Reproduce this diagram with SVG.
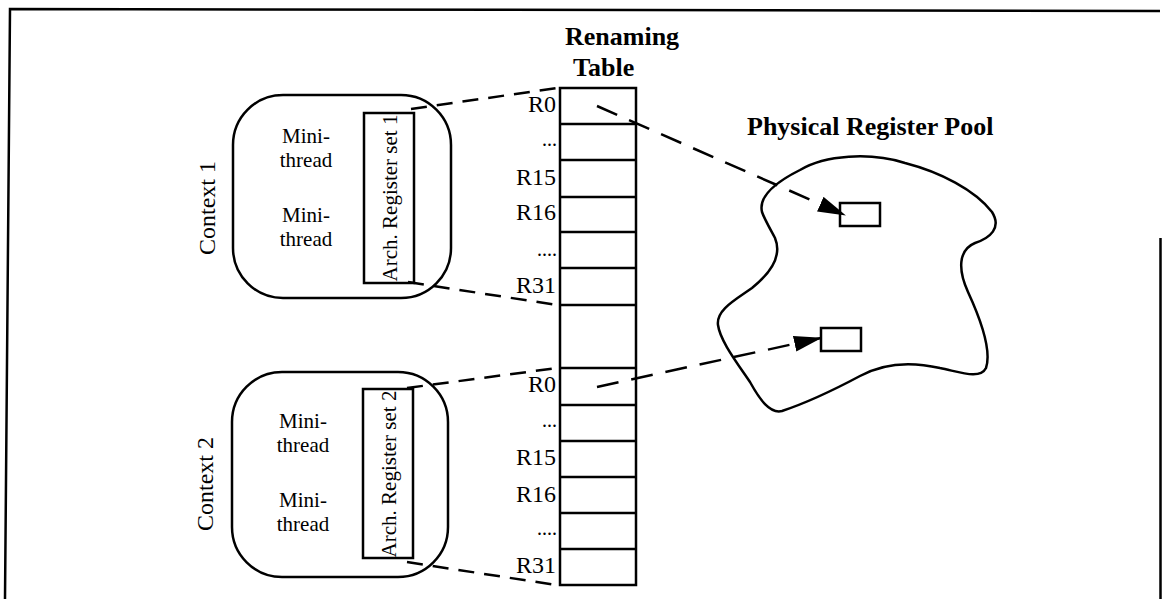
<svg xmlns="http://www.w3.org/2000/svg" width="1162" height="599" viewBox="0 0 1162 599">
<style>
.ln{fill:none;stroke:#000;stroke-width:2.5}
.t{font-family:"Liberation Serif","Times New Roman",serif;font-size:24px;fill:#000}
.mt{font-size:21px}
.b{font-family:"Liberation Serif","Times New Roman",serif;font-size:26px;font-weight:bold;fill:#000}
.r{text-anchor:end}
.m{text-anchor:middle}
.d1{fill:none;stroke:#000;stroke-width:2.5;stroke-dasharray:16 10}
.d2{fill:none;stroke:#000;stroke-width:2.5;stroke-dasharray:22 13}
</style>
<defs>
<marker id="ah" viewBox="0 0 28 16" refX="27" refY="8" markerWidth="28" markerHeight="16" markerUnits="userSpaceOnUse" orient="auto">
<path d="M0,0 L28,8 L0,16 z" fill="#000"/>
</marker>
</defs>
<rect width="1162" height="599" fill="#fff"/>
<path class="ln" d="M5,599 L10,9 L1160,11 M1160.5,238 L1160.5,599"/>

<g id="context1">
<rect class="ln" x="233" y="95" width="218" height="203" rx="50"/>
<text class="t m" transform="translate(215,208) rotate(-90)">Context 1</text>
<text class="t m mt" x="306" y="143">Mini-</text>
<text class="t m mt" x="306" y="167">thread</text>
<text class="t m mt" x="306" y="222">Mini-</text>
<text class="t m mt" x="306" y="246">thread</text>
</g>
<g id="archset1">
<rect class="ln" x="364" y="113" width="50" height="170"/>
<text class="t m" style="font-size:21px" transform="translate(397,198) rotate(-90)">Arch. Register set 1</text>
</g>

<g id="context2">
<rect class="ln" x="232" y="372" width="216" height="205" rx="50"/>
<text class="t m" transform="translate(213,484) rotate(-90)">Context 2</text>
<text class="t m mt" x="303" y="428">Mini-</text>
<text class="t m mt" x="303" y="452">thread</text>
<text class="t m mt" x="303" y="507">Mini-</text>
<text class="t m mt" x="303" y="531">thread</text>
</g>
<g id="archset2">
<rect class="ln" x="363" y="389" width="50" height="169"/>
<text class="t m" style="font-size:21px" transform="translate(396,474) rotate(-90)">Arch. Register set 2</text>
</g>

<g id="renaming-table">
<text class="b" x="565" y="45">Renaming</text>
<text class="b" x="573" y="76">Table</text>
<rect class="ln" x="560" y="88" width="76" height="497"/>
<path class="ln" d="M560,124H636M560,160H636M560,197H636M560,232H636M560,268H636M560,305H636M560,368H636M560,405H636M560,441H636M560,477H636M560,513H636M560,549H636"/>
<text class="t r" x="556" y="112">R0</text>
<text class="t r" style="font-size:20px" x="557" y="146">...</text>
<text class="t r" x="556" y="185">R15</text>
<text class="t r" x="556" y="220">R16</text>
<text class="t r" style="font-size:20px" x="557" y="256">....</text>
<text class="t r" x="556" y="293">R31</text>
<text class="t r" x="556" y="392">R0</text>
<text class="t r" style="font-size:20px" x="557" y="427">...</text>
<text class="t r" x="556" y="465">R15</text>
<text class="t r" x="556" y="502">R16</text>
<text class="t r" style="font-size:20px" x="557" y="535">....</text>
<text class="t r" x="556" y="573">R31</text>
</g>

<g id="register-pool">
<text class="b" x="747" y="135">Physical Register Pool</text>
<path class="ln" d="M762,212 C758,195 780,180 800,170 C825,155 870,152 905,163 C940,172 975,190 992,212 C1002,228 990,238 975,243 C958,250 958,270 968,292 C980,318 992,350 986,368 C980,380 960,372 940,368 C905,360 880,365 860,376 C830,392 800,405 782,411 C770,414 760,400 750,382 C735,360 720,340 718,325 C716,310 735,300 752,288 C772,272 782,255 775,238 C768,225 764,218 762,212 Z"/>
</g>
<g id="preg1"><rect class="ln" x="840" y="203" width="40" height="23"/></g>
<g id="preg2"><rect class="ln" x="821" y="328" width="40" height="23"/></g>

<g id="connectors">
<path class="d1" d="M411,109 L557,88"/>
<path class="d1" d="M408,282 L557,305"/>
<path class="d1" d="M407,388 L557,368"/>
<path class="d1" d="M407,562 L556,585"/>
<path class="d2" d="M597,106 L845,215" marker-end="url(#ah)"/>
<path class="d2" d="M597,387 L821,338" marker-end="url(#ah)"/>
</g>
</svg>
